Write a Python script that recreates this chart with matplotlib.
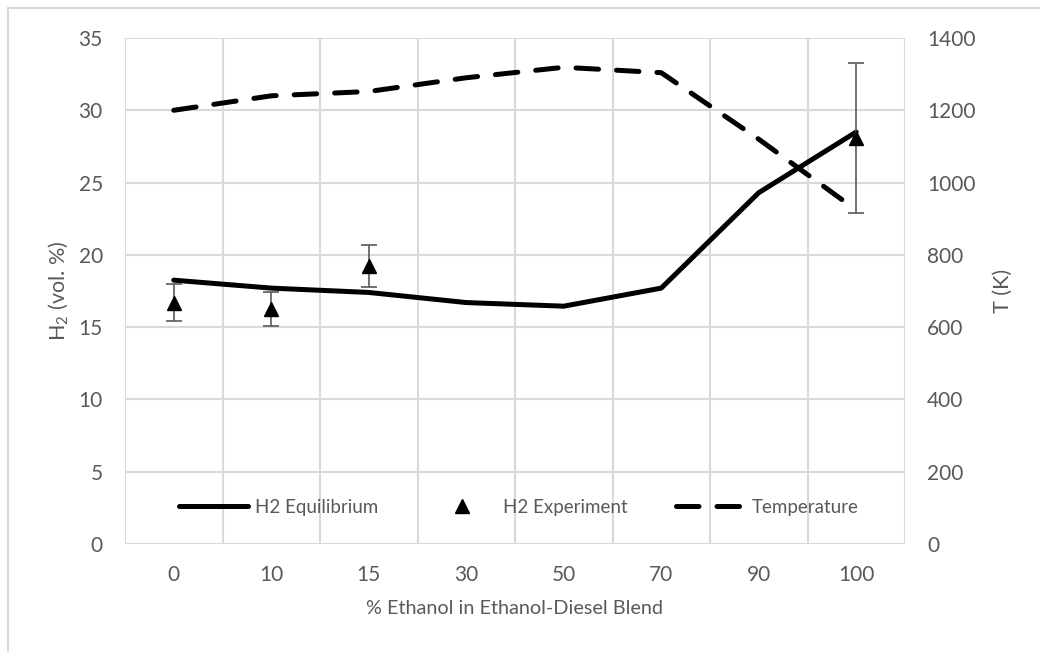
import numpy as np
import matplotlib
matplotlib.use("Agg")
import matplotlib.pyplot as plt
from matplotlib.patches import Rectangle

plt.rcParams['font.family'] = ['Lato', 'DejaVu Sans']
plt.rcParams['mathtext.default'] = 'regular'

# blend ratios (categorical axis)
blends = ['0', '10', '15', '30', '50', '70', '90', '100']
h2_equilibrium = [18.25, 17.7, 17.4, 16.7, 16.45, 17.7, 24.3, 28.5]
temperature = [1200, 1240, 1252, 1290, 1319, 1304, 1120, 924]
# experimental H2 only measured for some blends
exp_blends = ['0', '10', '15', '100']
h2_experiment = [16.7, 16.25, 19.25, 28.1]
h2_exp_err = [1.25, 1.15, 1.45, 5.2]

grey = '#595959'
gridc = '#d9d9d9'

fig = plt.figure(figsize=(10.4, 6.52), dpi=100)
W, H = 1040, 652
ax = fig.add_axes([125 / W, 1 - 544 / H, 780 / W, 506 / H])
ax2 = ax.twinx()

x = np.arange(len(blends))
xe = [blends.index(b) for b in exp_blends]

eq_line, = ax.plot(x, h2_equilibrium, color='black', lw=3.6,
                   solid_capstyle='round', solid_joinstyle='round', zorder=3)
ax.errorbar(xe, h2_experiment, yerr=h2_exp_err, fmt='none', ecolor=grey,
            elinewidth=1.2, capsize=6, capthick=1.2, zorder=4)
exp_pts, = ax.plot(xe, h2_experiment, ls='none', marker='^', ms=10.5,
                   color='black', zorder=5)
t_line, = ax2.plot(x, temperature, color='black', lw=3.6, ls=(0, (4.5, 3.6)),
                   dash_capstyle='round', zorder=3)

ax.set_xlim(-0.5, len(blends) - 0.5)
ax.set_ylim(0, 35)
ax.set_yticks(np.arange(0, 36, 5))
ax2.set_ylim(0, 1400)
ax2.set_yticks(np.arange(0, 1401, 200))
ax.set_xticks(x)
ax.set_xticklabels(blends)
ax.set_xticks(np.arange(-0.5, len(blends), 1), minor=True)

ax.grid(axis='y', which='major', color=gridc, lw=1.5)
ax.grid(axis='x', which='minor', color=gridc, lw=1.5)
ax.set_axisbelow(True)
for a in (ax, ax2):
    for s in a.spines.values():
        s.set_visible(False)
    a.tick_params(which='both', length=0, labelsize=15, labelcolor=grey)
ax.tick_params(axis='y', pad=16)
ax.tick_params(axis='x', pad=15)
ax2.tick_params(axis='y', pad=16)

ax.set_xlabel('% Ethanol in Ethanol-Diesel Blend', fontsize=14.3, color=grey, labelpad=11)
ax.set_ylabel('H$_2$ (vol. %)', fontsize=15.5, color=grey, labelpad=6)
ax2.set_ylabel('T (K)', fontsize=15.5, color=grey, labelpad=12)

leg = ax2.legend([eq_line, exp_pts, t_line],
                 ['H2 Equilibrium', 'H2 Experiment', 'Temperature'],
                 loc='center', bbox_to_anchor=((519 - 125) / 780, (544 - 507) / 506),
                 ncol=3, frameon=False, fontsize=13.5, handlelength=3.7,
                 handletextpad=0.35, columnspacing=2.6, borderaxespad=0)
for t in leg.get_texts():
    t.set_color(grey)

# outer chart border
fig.add_artist(Rectangle((8 / W, -0.1), 1.2, 1 - 8 / H + 0.1, transform=fig.transFigure,
                         fill=False, edgecolor=gridc, lw=1.5))

fig.savefig('out.png', dpi=100, facecolor='white')
